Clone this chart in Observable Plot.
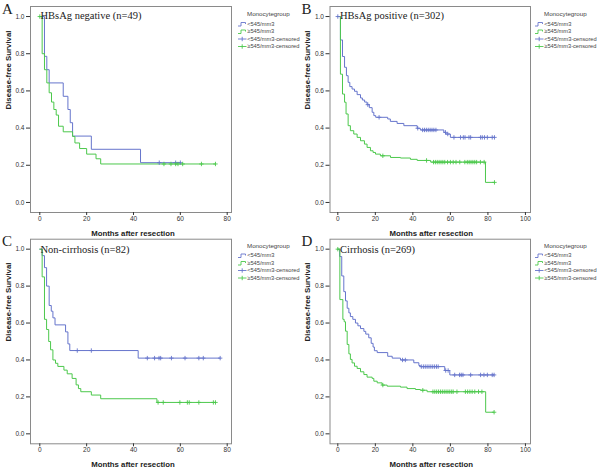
<!DOCTYPE html>
<html><head><meta charset="utf-8">
<script src="https://cdn.jsdelivr.net/npm/d3@7"></script>
<script src="https://cdn.jsdelivr.net/npm/@observablehq/plot@0.6"></script>
<style>
body{margin:0;background:#fff;}
#wrap{position:relative;width:600px;height:468px;overflow:hidden;background:#fff;}
.panel{position:absolute;width:300px;height:234px;}
.panel svg{overflow:visible;}
#legend{position:absolute;left:0;top:0;}
</style></head><body><div id="wrap"></div>
<script>
// ---- categories / labels ----
const groups = ["<545/mm3", "≥545/mm3"];
const legendTitle = "Monocytegroup";
const legendLabels = ["<545/mm3", "≥545/mm3", "<545/mm3-censored", "≥545/mm3-censored"];
const panelLetters = ["A", "B", "C", "D"];
const panelTitles = ["HBsAg negative (n=49)", "HBsAg positive (n=302)", "Non-cirrhosis (n=82)", "Cirrhosis (n=269)"];
const yTitle = "Disease-free Survival";
const xTitle = "Months after resection";
const yTicks = [0, 0.2, 0.4, 0.6, 0.8, 1.0];
const xTicks80 = [0, 20, 40, 60, 80];
const xTicks100 = [0, 20, 40, 60, 80, 100];

// ---- Panel A: HBsAg negative ----
const aBlueT = [0,2,3,4,10,12,13,14,22,43,60];
const aBlueS = [1,0.786,0.714,0.643,0.571,0.5,0.429,0.357,0.286,0.214,0.214];
const aBlueC = [51,58,60];
const aGreenT = [0,1,2,3,4,5,6,7,8,10,14,15,17,20,24,26,75];
const aGreenS = [1,0.8,0.714,0.643,0.59,0.54,0.5,0.47,0.41,0.38,0.355,0.32,0.29,0.26,0.235,0.207,0.207];
const aGreenC = [0,53,56,58,59,61,69,75];

// ---- Panel B: HBsAg positive ----
const bBlueT = [0,1.4,2.5,3.6,4.6,5.5,6.4,7.6,8.9,10.3,12.1,13.1,14.3,15.6,16.8,18.3,19.2,20.2,26.6,28,31.6,35.2,42.3,44,56.5,57.5,60,83.5];
const bBlueS = [1,0.874,0.785,0.727,0.682,0.646,0.623,0.61,0.598,0.58,0.562,0.551,0.54,0.526,0.51,0.485,0.467,0.458,0.449,0.436,0.425,0.413,0.399,0.39,0.377,0.368,0.35,0.35];
const bBlueC = [0,16,22,42.6,45.2,46.2,47.2,48.2,49.2,50.2,51.2,52.3,57.4,58.6,61.9,65.4,66.9,67.8,69.9,70.8,76.1,77,78.2,79.7,82.3,83.5];
const bGreenT = [0,1.4,2.5,3.6,4.4,5.5,6.7,8.5,10.3,12.1,14.2,15.6,17.4,18.8,20.1,22.7,28.1,33.4,38.7,42.3,49.5,78.7,83.5];
const bGreenS = [1,0.69,0.583,0.539,0.476,0.413,0.386,0.368,0.35,0.332,0.314,0.296,0.278,0.269,0.26,0.251,0.242,0.239,0.232,0.226,0.217,0.108,0.108];
const bGreenC = [24,47.3,51,52,53,54,55,56,57,58.5,60,61.5,63,65,67.7,69,70,71,72,73,74,76,78,83.5];

// ---- Panel C: Non-cirrhosis ----
const cBlueT = [0,1,2,2.9,4,4.9,5.6,6.5,11,12,12.8,42,77];
const cBlueS = [1,0.965,0.9,0.8,0.695,0.664,0.628,0.59,0.552,0.487,0.451,0.41,0.41];
const cBlueC = [16,22,45.9,49,50.9,51.6,56.2,62,67.9,69.8,77];
const cGreenT = [0,1,2,2.9,3.8,4.6,5.6,6.7,7.7,10.3,11.7,13.8,15.5,16.5,17.5,22,26,50,75];
const cGreenS = [1,0.85,0.62,0.565,0.5,0.455,0.4,0.382,0.365,0.345,0.325,0.3,0.265,0.245,0.228,0.21,0.19,0.17,0.17];
const cGreenC = [50.5,52.7,59.8,63,63.8,67.9,74.1,75];

// ---- Panel D: Cirrhosis ----
const dBlueT = [0,1,2.1,3.2,4.1,5,5.9,6.7,8,9.4,10.7,12.1,13.9,14.9,16.5,17.8,18.8,19.5,21,26.6,29,33.4,40.5,43.2,44,57,59.7,83.3];
const dBlueS = [1,0.96,0.855,0.77,0.72,0.68,0.655,0.635,0.62,0.6,0.585,0.57,0.555,0.54,0.52,0.49,0.47,0.45,0.44,0.42,0.41,0.4,0.385,0.37,0.364,0.343,0.319,0.319];
const dBlueC = [34.5,36,44.5,45.6,46.6,47.6,48.6,49.6,50.6,51.6,52.6,53.5,57.5,58.8,62.3,64.9,65.8,66.7,70.8,76.1,77.9,79.7,82.3,83.3];
const dGreenT = [0,1.1,2.7,3.4,4.1,5,5.9,6.7,7.6,8.9,10.3,12.1,13.9,15.6,18.3,19.2,21,23.6,26.3,33.4,36.9,41.4,44,47.6,78.8,83.3];
const dGreenS = [1,0.727,0.62,0.607,0.556,0.484,0.433,0.403,0.384,0.366,0.354,0.336,0.321,0.307,0.3,0.285,0.276,0.264,0.258,0.253,0.245,0.24,0.236,0.228,0.117,0.117];
const dGreenC = [0,24,45.3,50.7,51.7,52.7,53.7,54.7,55.7,56.7,57.7,58.7,59.7,60.7,61.5,63.5,68,69.2,70.4,71.6,73,75,76.8,83.3];

// ---- style ----
const colors = ["#6675cc", "#4cc84c"];
const sans = "Liberation Sans, Arial, sans-serif";
const serif = "Liberation Serif, Times New Roman, serif";

function steps(t, s, g) { return t.map((d, i) => ({t: d, s: s[i], group: g})); }
function censors(t, s, c, g) {
  return c.map(x => { const i = Math.max(0, d3.bisectRight(t, x) - 1); return {t: x, s: s[i], group: g}; });
}
const plusSymbol = {
  draw(ctx, size) {
    const r = Math.sqrt(size / Math.PI);
    ctx.moveTo(0, -r); ctx.lineTo(0, r);
    ctx.moveTo(-r, 0); ctx.lineTo(r, 0);
  }
};

const panels = [
  {left: 0, top: 0, ml: 30, mr: 69, mt: 6, mb: 22, xd: [-3.97, 81.84], xt: xTicks80,
   data: [[aBlueT, aBlueS, aBlueC], [aGreenT, aGreenS, aGreenC]], ytdx: -22, xtdx: 2, xtdy: 21, tdy: 9, ldy: 2.5},
  {left: 300, top: 0, ml: 29.5, mr: 70, mt: 6, mb: 22, xd: [-4.16, 102.7], xt: xTicks100,
   data: [[bBlueT, bBlueS, bBlueC], [bGreenT, bGreenS, bGreenC]], ytdx: -22.5, xtdx: 1, xtdy: 21, tdy: 9, ldy: 2.5},
  {left: 0, top: 234, ml: 30, mr: 69, mt: 4.7, mb: 24.7, xd: [-3.97, 81.84], xt: xTicks80,
   data: [[cBlueT, cBlueS, cBlueC], [cGreenT, cGreenS, cGreenC]], ytdx: -22, xtdx: 2, xtdy: 20.7, tdy: 10.3, ldy: 1.5},
  {left: 300, top: 234, ml: 29.5, mr: 70, mt: 4.7, mb: 24.7, xd: [-4.16, 102.7], xt: xTicks100,
   data: [[dBlueT, dBlueS, dBlueC], [dGreenT, dGreenS, dGreenC]], ytdx: -22.5, xtdx: 1, xtdy: 20.7, tdy: 10.3, ldy: 1.5}
];

const wrap = document.getElementById("wrap");
panels.forEach((p, k) => {
  const lines = [], cens = [];
  p.data.forEach(([t, s, c], gi) => {
    lines.push(...steps(t, s, groups[gi]));
    cens.push(...censors(t, s, c, groups[gi]));
  });
  const chart = Plot.plot({
    width: 300, height: 234,
    marginLeft: p.ml, marginRight: p.mr, marginTop: p.mt, marginBottom: p.mb,
    x: {domain: p.xd},
    y: {domain: [-0.054, 1.054]},
    color: {domain: groups, range: colors},
    style: {fontFamily: sans, background: "none", overflow: "visible", color: "#333"},
    marks: [
      Plot.frame({stroke: "#8a8a8a", strokeWidth: 1}),
      Plot.axisY(yTicks, {tickFormat: d => d.toFixed(1), tickSize: 4, tickPadding: 2, fontSize: 6.5, label: null}),
      Plot.axisX(p.xt, {tickSize: 3, tickPadding: 1, fontSize: 6.5, label: null}),
      Plot.line(lines, {x: "t", y: "s", z: "group", stroke: "group", curve: "step-after", strokeWidth: 1}),
      Plot.dot(cens, {x: "t", y: "s", stroke: "group", fill: "none", symbol: plusSymbol, r: 2.2, strokeWidth: 0.9}),
      Plot.text([panelTitles[k]], {frameAnchor: "top-left", textAnchor: "start", lineAnchor: "middle", dx: 10, dy: p.tdy, fontFamily: serif, fontSize: 10.5, fill: "#222"}),
      Plot.text([panelLetters[k]], {frameAnchor: "top-left", textAnchor: "start", lineAnchor: "middle", dx: -28.5, dy: p.ldy, fontFamily: serif, fontSize: 15, fill: "#222"}),
      Plot.text([yTitle], {frameAnchor: "left", rotate: -90, dx: p.ytdx, fontWeight: "bold", fontSize: 7.8, fill: "#222"}),
      Plot.text([xTitle], {frameAnchor: "bottom", lineAnchor: "middle", dx: p.xtdx, dy: p.xtdy, fontWeight: "bold", fontSize: 7.8, fill: "#222"})
    ]
  });
  const div = document.createElement("div");
  div.className = "panel";
  div.style.left = p.left + "px";
  div.style.top = p.top + "px";
  div.appendChild(chart);
  wrap.appendChild(div);
});

// ---- legends ----
const legendPos = [[238, 14], [535, 14], [238, 245.5], [535, 245.5]];
const itemOffsets = [10, 17.5, 25, 32.5];
const svg = d3.select(wrap).append("svg").attr("id", "legend").attr("width", 600).attr("height", 468)
  .style("font-family", sans);
legendPos.forEach(([gx, gy]) => {
  const g = svg.append("g").attr("transform", `translate(${gx},${gy})`);
  g.append("text").attr("x", 9).attr("y", 0).attr("dy", "0.35em").attr("font-size", 6.2).attr("fill", "#444").text(legendTitle);
  legendLabels.forEach((lab, i) => {
    const y = itemOffsets[i];
    const col = colors[i % 2];
    if (i < 2) {
      g.append("path").attr("d", `M0,${y + 2}H3V${y - 1.5}H7.5V${y}`).attr("fill", "none").attr("stroke", col).attr("stroke-width", 0.9);
    } else {
      g.append("path").attr("d", `M0,${y}H8.5M4.2,${y - 2.2}V${y + 2.2}`).attr("fill", "none").attr("stroke", col).attr("stroke-width", 0.9);
    }
    g.append("text").attr("x", 9.3).attr("y", y).attr("dy", "0.35em").attr("font-size", 5.7).attr("fill", "#444").text(lab);
  });
});
</script>
</body></html>
